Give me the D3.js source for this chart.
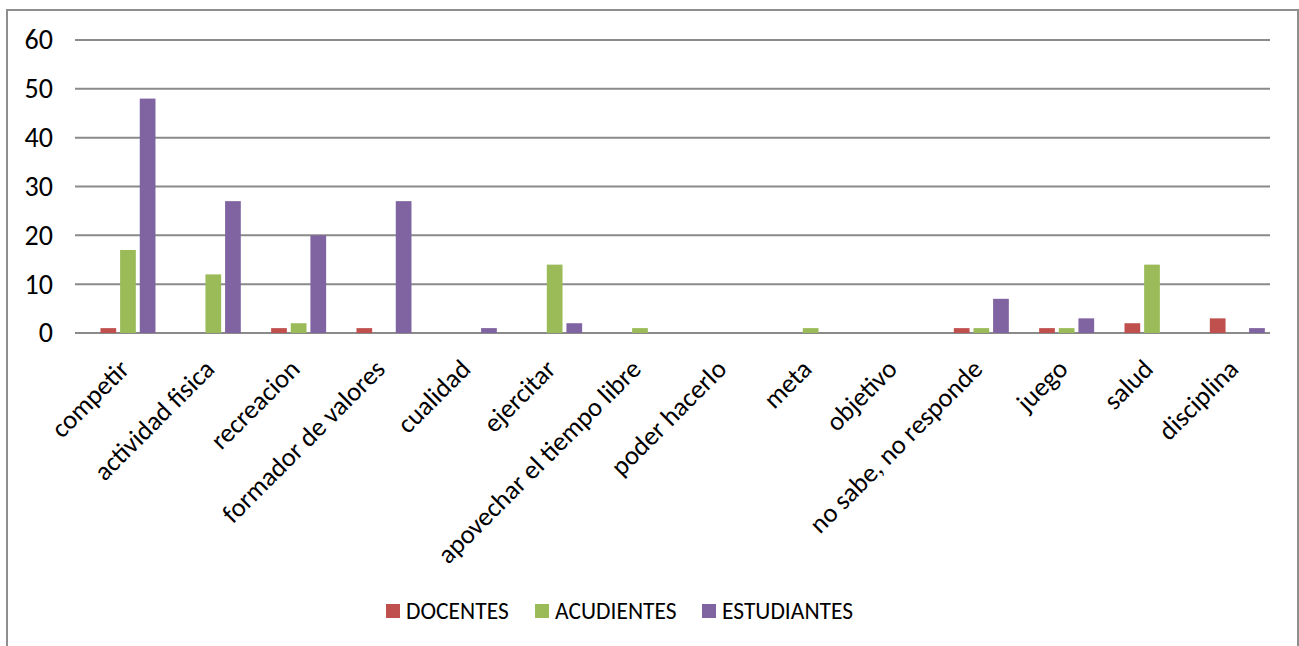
<!DOCTYPE html>
<html><head><meta charset="utf-8">
<script src="https://cdn.jsdelivr.net/npm/d3@7"></script>
<style>
body{margin:0;background:#fff;}
svg{display:block;font-family:Carlito,Calibri,Lato,"Liberation Sans",sans-serif;}
</style></head>
<body>
<svg id="c" width="1299" height="646"></svg>
<script>
const categories = ["competir","actividad fisica","recreacion","formador de valores","cualidad","ejercitar","apovechar el tiempo libre","poder hacerlo","meta","objetivo","no sabe, no responde","juego","salud","disciplina"];
const seriesNames = ["DOCENTES","ACUDIENTES","ESTUDIANTES"];
const docentes    = [1,0,1,1,0,0,0,0,0,0,1,1,2,3];
const acudientes  = [17,12,2,0,0,14,1,0,1,0,1,1,14,0];
const estudiantes = [48,27,20,27,1,2,0,0,0,0,7,3,0,1];
const yTicks = [0,10,20,30,40,50,60];
const colors = ["#C0504D","#9BBB59","#8064A2"];

const values = [docentes, acudientes, estudiantes];
const svg = d3.select("#c");

// frame
svg.append("rect").attr("x",7).attr("y",10).attr("width",1291).attr("height",660)
  .attr("fill","none").attr("stroke","#8e8e8e").attr("stroke-width",2);

const y = d3.scaleLinear().domain([0,60]).range([333,40]);
const x0 = d3.scaleBand().domain(categories).range([85.3,1280]).padding(0);
const groupW = 55;
const x1 = d3.scaleBand().domain(seriesNames).range([0,groupW]).paddingInner(0.2).paddingOuter(0);

// gridlines
svg.append("g").selectAll("line").data(yTicks).join("line")
  .attr("x1",75).attr("x2",1270)
  .attr("y1",d=>y(d)).attr("y2",d=>y(d))
  .attr("stroke","#8a8a8a").attr("stroke-width",2);

// y labels
const yAxis = d3.axisLeft(y).tickValues(yTicks).tickSize(0).tickPadding(0);
const ga = svg.append("g").attr("transform","translate(53,0)").call(yAxis);
ga.select(".domain").remove();
ga.selectAll("text").attr("font-size",28).attr("fill","#000").attr("dy","0.32em")
  .style("font-family","Carlito,Calibri,Lato,'Liberation Sans',sans-serif");

// bars
const gBars = svg.append("g");
categories.forEach((c,i)=>{
  const gx = x0(c) + (x0.bandwidth()-groupW)/2;
  seriesNames.forEach((s,j)=>{
    const v = values[j][i];
    if(v<=0) return;
    gBars.append("rect")
      .attr("x",gx + x1(s)).attr("width",x1.bandwidth())
      .attr("y",y(v)).attr("height",y(0)-y(v))
      .attr("fill",colors[j]);
  });
});

// x labels
const gx = svg.append("g").attr("transform","translate(0,333)");
gx.selectAll("text").data(categories).join("text")
  .attr("transform",d=>`translate(${x0(d)+x0.bandwidth()/2+2.7},37.7) rotate(-45)`)
  .attr("text-anchor","end")
  .attr("font-size",26.5).attr("fill","#000").text(d=>d);

// legend
const legX = [386,535,702];
const lg = svg.append("g");
seriesNames.forEach((s,j)=>{
  lg.append("rect").attr("x",legX[j]).attr("y",604).attr("width",14).attr("height",14).attr("fill",colors[j]);
  lg.append("text").attr("x",legX[j]+20).attr("y",619).attr("font-size",23.5).attr("fill","#000").text(s);
});
</script>
</body></html>
